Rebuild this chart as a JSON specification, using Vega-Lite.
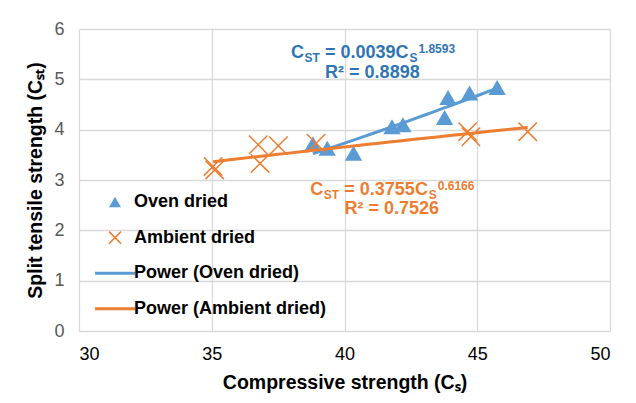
{
  "$schema": "https://vega.github.io/schema/vega-lite/v6.json",
  "width": 531,
  "height": 302,
  "autosize": {"type": "none"},
  "padding": {"left": 79, "top": 29, "right": 26, "bottom": 72},
  "background": "white",
  "config": {
    "font": "Liberation Sans",
    "view": {"stroke": null},
    "axis": {
      "grid": true,
      "gridColor": "#D9D9D9",
      "gridWidth": 1.3,
      "domain": false,
      "ticks": false,
      "labelFont": "Liberation Sans",
      "labelFontSize": 18,
      "titleFont": "Liberation Sans",
      "titleFontSize": 19.5,
      "titleFontWeight": "bold",
      "titleColor": "#000000"
    },
    "legend": {
      "title": null,
      "orient": "none",
      "legendX": 27,
      "legendY": 164,
      "padding": 0,
      "labelFont": "Liberation Sans",
      "labelFontSize": 18,
      "labelFontWeight": "bold",
      "labelColor": "#000000",
      "labelLimit": 0,
      "labelOffset": 10,
      "rowPadding": 17.6,
      "symbolSize": 144,
      "symbolStrokeWidth": 1.5,
      "symbolOpacity": 1
    }
  },
  "datasets": {
    "points": [
      {"series": "Oven dried", "fit": "Power (Oven dried)", "cs": 38.81, "cst": 3.72},
      {"series": "Oven dried", "fit": "Power (Oven dried)", "cs": 39.35, "cst": 3.63},
      {"series": "Oven dried", "fit": "Power (Oven dried)", "cs": 40.34, "cst": 3.53},
      {"series": "Oven dried", "fit": "Power (Oven dried)", "cs": 41.79, "cst": 4.06},
      {"series": "Oven dried", "fit": "Power (Oven dried)", "cs": 42.2, "cst": 4.1},
      {"series": "Oven dried", "fit": "Power (Oven dried)", "cs": 43.77, "cst": 4.24},
      {"series": "Oven dried", "fit": "Power (Oven dried)", "cs": 43.9, "cst": 4.64},
      {"series": "Oven dried", "fit": "Power (Oven dried)", "cs": 44.71, "cst": 4.73},
      {"series": "Oven dried", "fit": "Power (Oven dried)", "cs": 45.75, "cst": 4.84},
      {"series": "Ambient dried", "fit": "Power (Ambient dried)", "cs": 35.05, "cst": 3.27},
      {"series": "Ambient dried", "fit": "Power (Ambient dried)", "cs": 35.11, "cst": 3.2},
      {"series": "Ambient dried", "fit": "Power (Ambient dried)", "cs": 36.75, "cst": 3.7},
      {"series": "Ambient dried", "fit": "Power (Ambient dried)", "cs": 36.82, "cst": 3.33},
      {"series": "Ambient dried", "fit": "Power (Ambient dried)", "cs": 37.51, "cst": 3.68},
      {"series": "Ambient dried", "fit": "Power (Ambient dried)", "cs": 38.93, "cst": 3.73},
      {"series": "Ambient dried", "fit": "Power (Ambient dried)", "cs": 44.64, "cst": 3.96},
      {"series": "Ambient dried", "fit": "Power (Ambient dried)", "cs": 44.76, "cst": 3.86},
      {"series": "Ambient dried", "fit": "Power (Ambient dried)", "cs": 46.9, "cst": 3.96}
    ],
    "equations": [
      {"series": "Oven dried", "coef": "= 0.0039C", "exponent": "1.8593", "r2": "R² = 0.8898"},
      {"series": "Ambient dried", "coef": "= 0.3755C", "exponent": "0.6166", "r2": "R² = 0.7526"}
    ]
  },
  "layer": [
    {
      "data": {"name": "points"},
      "transform": [{"filter": "datum.series === 'Oven dried'"}],
      "mark": {"type": "point", "filled": true, "size": 300, "opacity": 1},
      "encoding": {
        "x": {
          "field": "cs", "type": "quantitative",
          "scale": {"domain": [30, 50], "nice": false, "zero": false},
          "axis": {
            "values": [30, 35, 40, 45, 50],
            "title": "Compressive strength (Cₛ)",
            "labelColor": "#000000",
            "labelPadding": 14,
            "titlePadding": 10
          }
        },
        "y": {
          "field": "cst", "type": "quantitative",
          "scale": {"domain": [0, 6], "nice": false},
          "axis": {
            "values": [0, 1, 2, 3, 4, 5, 6],
            "title": "Split tensile strength (Cₛₜ)",
            "labelColor": "#595959",
            "labelPadding": 15,
            "titlePadding": 8
          }
        },
        "fill": {
          "field": "series", "type": "nominal",
          "scale": {
            "domain": ["Oven dried", "Ambient dried", "Power (Oven dried)", "Power (Ambient dried)"],
            "range": ["#5B9BD5", "#ED7D31", "#5B9BD5", "#ED7D31"]
          },
          "legend": {"title": null}
        },
        "shape": {
          "field": "series", "type": "nominal",
          "scale": {
            "domain": ["Oven dried", "Ambient dried", "Power (Oven dried)", "Power (Ambient dried)"],
            "range": ["triangle-up", "M-1,-1L1,1M-1,1L1,-1", "M-3.2,-0.13L3.2,-0.13L3.2,0.13L-3.2,0.13Z", "M-3.2,-0.13L3.2,-0.13L3.2,0.13L-3.2,0.13Z"]
          },
          "legend": {"title": null}
        }
      }
    },
    {
      "data": {"name": "points"},
      "transform": [{"filter": "datum.series === 'Ambient dried'"}],
      "mark": {"type": "point", "filled": false, "size": 340, "strokeWidth": 1.5, "opacity": 1},
      "encoding": {
        "x": {"field": "cs", "type": "quantitative"},
        "y": {"field": "cst", "type": "quantitative"},
        "stroke": {
          "field": "series", "type": "nominal",
          "scale": {
            "domain": ["Oven dried", "Ambient dried", "Power (Oven dried)", "Power (Ambient dried)"],
            "range": ["transparent", "#ED7D31", "#5B9BD5", "#ED7D31"]
          },
          "legend": {"title": null}
        },
        "shape": {"field": "series", "type": "nominal", "legend": {"title": null}}
      }
    },
    {
      "data": {"name": "points"},
      "transform": [{"regression": "cst", "on": "cs", "method": "pow", "groupby": ["series", "fit"]}],
      "mark": {"type": "line", "strokeWidth": 3, "strokeCap": "butt"},
      "encoding": {
        "x": {"field": "cs", "type": "quantitative"},
        "y": {"field": "cst", "type": "quantitative"},
        "stroke": {"field": "fit", "type": "nominal", "legend": {"title": null}}
      }
    },
    {
      "data": {"name": "equations"},
      "transform": [{"filter": "datum.series === 'Oven dried'"}],
      "mark": {"type": "text", "text": "C", "align": "left", "baseline": "alphabetic", "dx": -81.5, "fontSize": 18, "fontWeight": "bold", "fill": "#2E75B6"},
      "encoding": {"x": {"datum": 41.05, "type": "quantitative"}, "y": {"datum": 5.42, "type": "quantitative"}}
    },
    {
      "data": {"name": "equations"},
      "transform": [{"filter": "datum.series === 'Oven dried'"}],
      "mark": {"type": "text", "text": "ST", "align": "left", "baseline": "alphabetic", "dx": -68, "dy": 4, "fontSize": 12, "fontWeight": "bold", "fill": "#2E75B6"},
      "encoding": {"x": {"datum": 41.05, "type": "quantitative"}, "y": {"datum": 5.42, "type": "quantitative"}}
    },
    {
      "data": {"name": "equations"},
      "transform": [{"filter": "datum.series === 'Oven dried'"}],
      "mark": {"type": "text", "align": "left", "baseline": "alphabetic", "dx": -47.45, "fontSize": 18, "fontWeight": "bold", "fill": "#2E75B6"},
      "encoding": {"x": {"datum": 41.05, "type": "quantitative"}, "y": {"datum": 5.42, "type": "quantitative"}, "text": {"field": "coef"}}
    },
    {
      "data": {"name": "equations"},
      "transform": [{"filter": "datum.series === 'Oven dried'"}],
      "mark": {"type": "text", "text": "S", "align": "left", "baseline": "alphabetic", "dx": 37, "dy": 4, "fontSize": 12, "fontWeight": "bold", "fill": "#2E75B6"},
      "encoding": {"x": {"datum": 41.05, "type": "quantitative"}, "y": {"datum": 5.42, "type": "quantitative"}}
    },
    {
      "data": {"name": "equations"},
      "transform": [{"filter": "datum.series === 'Oven dried'"}],
      "mark": {"type": "text", "align": "left", "baseline": "alphabetic", "dx": 46, "dy": -5, "fontSize": 12, "fontWeight": "bold", "fill": "#2E75B6"},
      "encoding": {"x": {"datum": 41.05, "type": "quantitative"}, "y": {"datum": 5.42, "type": "quantitative"}, "text": {"field": "exponent"}}
    },
    {
      "data": {"name": "equations"},
      "transform": [{"filter": "datum.series === 'Oven dried'"}],
      "mark": {"type": "text", "align": "center", "baseline": "alphabetic", "dy": 20, "fontSize": 18, "fontWeight": "bold", "fill": "#2E75B6"},
      "encoding": {"x": {"datum": 41.05, "type": "quantitative"}, "y": {"datum": 5.42, "type": "quantitative"}, "text": {"field": "r2"}}
    },
    {
      "data": {"name": "equations"},
      "transform": [{"filter": "datum.series === 'Ambient dried'"}],
      "mark": {"type": "text", "text": "C", "align": "left", "baseline": "alphabetic", "dx": -81.5, "fontSize": 18, "fontWeight": "bold", "fill": "#ED7D31"},
      "encoding": {"x": {"datum": 41.78, "type": "quantitative"}, "y": {"datum": 2.7, "type": "quantitative"}}
    },
    {
      "data": {"name": "equations"},
      "transform": [{"filter": "datum.series === 'Ambient dried'"}],
      "mark": {"type": "text", "text": "ST", "align": "left", "baseline": "alphabetic", "dx": -68, "dy": 4, "fontSize": 12, "fontWeight": "bold", "fill": "#ED7D31"},
      "encoding": {"x": {"datum": 41.78, "type": "quantitative"}, "y": {"datum": 2.7, "type": "quantitative"}}
    },
    {
      "data": {"name": "equations"},
      "transform": [{"filter": "datum.series === 'Ambient dried'"}],
      "mark": {"type": "text", "align": "left", "baseline": "alphabetic", "dx": -47.45, "fontSize": 18, "fontWeight": "bold", "fill": "#ED7D31"},
      "encoding": {"x": {"datum": 41.78, "type": "quantitative"}, "y": {"datum": 2.7, "type": "quantitative"}, "text": {"field": "coef"}}
    },
    {
      "data": {"name": "equations"},
      "transform": [{"filter": "datum.series === 'Ambient dried'"}],
      "mark": {"type": "text", "text": "S", "align": "left", "baseline": "alphabetic", "dx": 37, "dy": 4, "fontSize": 12, "fontWeight": "bold", "fill": "#ED7D31"},
      "encoding": {"x": {"datum": 41.78, "type": "quantitative"}, "y": {"datum": 2.7, "type": "quantitative"}}
    },
    {
      "data": {"name": "equations"},
      "transform": [{"filter": "datum.series === 'Ambient dried'"}],
      "mark": {"type": "text", "align": "left", "baseline": "alphabetic", "dx": 46, "dy": -5, "fontSize": 12, "fontWeight": "bold", "fill": "#ED7D31"},
      "encoding": {"x": {"datum": 41.78, "type": "quantitative"}, "y": {"datum": 2.7, "type": "quantitative"}, "text": {"field": "exponent"}}
    },
    {
      "data": {"name": "equations"},
      "transform": [{"filter": "datum.series === 'Ambient dried'"}],
      "mark": {"type": "text", "align": "center", "baseline": "alphabetic", "dy": 19, "fontSize": 18, "fontWeight": "bold", "fill": "#ED7D31"},
      "encoding": {"x": {"datum": 41.78, "type": "quantitative"}, "y": {"datum": 2.7, "type": "quantitative"}, "text": {"field": "r2"}}
    }
  ]
}
